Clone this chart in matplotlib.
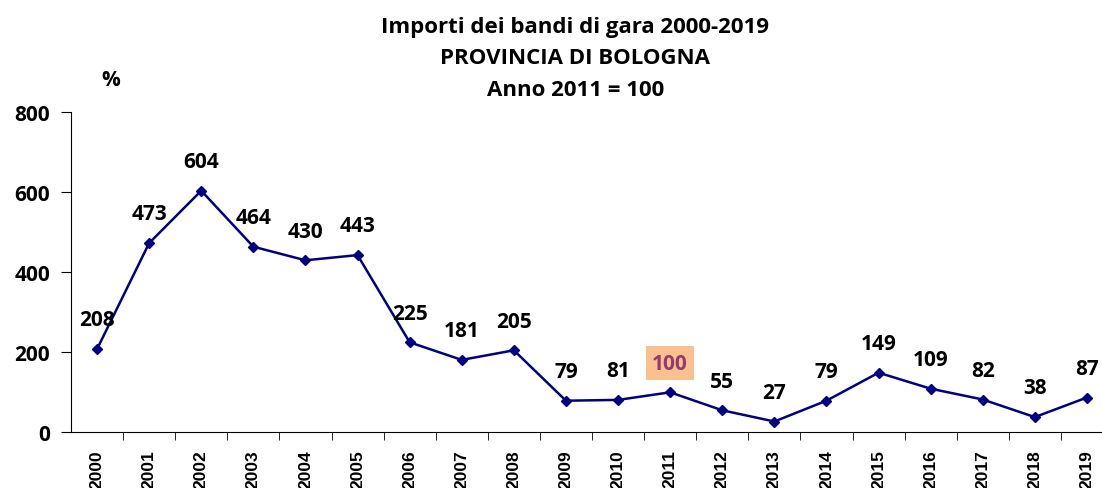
import matplotlib.pyplot as plt

anni = [str(a) for a in range(2000, 2020)]
indice = [208, 473, 604, 464, 430, 443, 225, 181, 205, 79,
          81, 100, 55, 27, 79, 149, 109, 82, 38, 87]
anno_base = "2011"

plt.rcParams['font.family'] = ['Open Sans', 'DejaVu Sans']

fig = plt.figure(figsize=(11.02, 4.89), dpi=100)
ax = fig.add_axes([71 / 1102, 1 - 433.3 / 489, 1042 / 1102, 320 / 489])

x = list(range(len(anni)))
ax.plot(x, indice, color='#000080', linewidth=1.8, marker='D', markersize=5.5)

for i, v in enumerate(indice):
    if anni[i] == anno_base:
        ax.annotate(str(v), (i, v), xytext=(0, 21), textcoords='offset points',
                    ha='center', va='center', fontsize=15, fontweight='bold',
                    color='#953a6e',
                    bbox=dict(boxstyle='square,pad=0.3', fc='#fac090', ec='none'))
    else:
        ax.annotate(str(v), (i, v), xytext=(0, 21), textcoords='offset points',
                    ha='center', va='center', fontsize=15, fontweight='bold')

ax.set_xlim(-0.5, len(anni) - 0.5)
ax.set_ylim(0, 800)
ax.set_yticks([0, 200, 400, 600, 800])

# year labels on the points, tick marks between categories
ax.set_xticks(x)
ax.set_xticklabels(anni, rotation=90, ha='center', va='top',
                   fontsize=12.5, fontweight='bold', family=['Liberation Sans'])
ax.set_xticks([i + 0.5 for i in range(len(anni))], minor=True)
ax.tick_params(axis='x', which='major', length=0, pad=12)
ax.tick_params(axis='x', which='minor', length=6, direction='out')
ax.tick_params(axis='y', length=7, direction='out', labelsize=15, pad=8)
for lab in ax.get_yticklabels():
    lab.set_fontweight('bold')

for s in ['top', 'right']:
    ax.spines[s].set_visible(False)

fig.text(0.522, 1 - 27 / 489, 'Importi dei bandi di gara 2000-2019', ha='center', va='center',
         fontsize=16, fontweight='bold')
fig.text(0.522, 1 - 58 / 489, 'PROVINCIA DI BOLOGNA', ha='center', va='center',
         fontsize=16, fontweight='bold')
fig.text(0.522, 1 - 90 / 489, 'Anno 2011 = 100', ha='center', va='center',
         fontsize=16, fontweight='bold')
fig.text(111 / 1102, 1 - 80 / 489, '%', ha='center', va='center', fontsize=15, fontweight='bold')

fig.savefig('out.png', dpi=100)
